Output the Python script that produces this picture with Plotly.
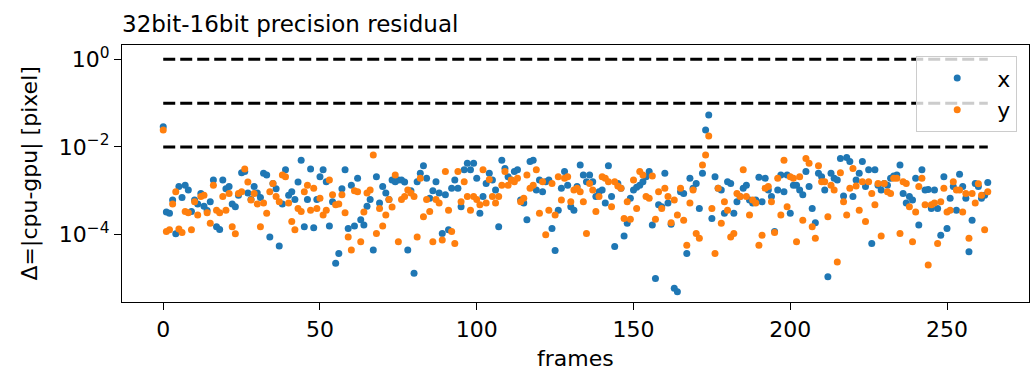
import plotly.graph_objects as go

# frame index
frames = list(range(264))

# log10 of |cpu-gpu| residual
x_residual_log10 = [
    -1.54, -3.48, -3.51, -3.21, -3.98, -2.90, -3.15, -2.87, -2.98, -3.47,
    -3.21, -3.30, -3.06, -3.35, -3.45, -3.25, -2.75, -3.82, -3.88, -2.75,
    -2.95, -2.90, -3.30, -3.36, -3.10, -2.59, -2.56, -3.05, -3.20, -2.90,
    -3.05, -3.15, -2.60, -2.64, -4.05, -2.83, -2.95, -4.26, -3.30, -2.52,
    -3.10, -3.02, -3.20, -2.80, -2.30, -3.82, -3.20, -2.50, -3.84, -3.20,
    -2.68, -2.52, -2.79, -3.80, -3.25, -4.65, -4.43, -2.95, -2.52, -3.86,
    -2.87, -3.80, -2.71, -3.66, -3.78, -3.35, -3.20, -4.35, -2.68, -3.28,
    -2.90, -3.05, -3.20, -2.75, -2.79, -2.75, -2.75, -2.80, -4.35, -3.00,
    -4.88, -2.79, -2.60, -2.43, -2.71, -3.17, -3.00, -2.79, -3.05, -3.97,
    -3.09, -3.89, -2.94, -2.75, -2.94, -3.36, -2.52, -2.37, -2.52, -2.37,
    -2.71, -3.51, -3.13, -2.83, -2.60, -2.75, -2.98, -3.82, -2.30, -2.49,
    -2.68, -2.75, -2.56, -2.52, -3.21, -3.28, -3.66, -2.33, -2.30, -2.98,
    -2.75, -3.02, -2.79, -2.75, -3.86, -4.36, -3.44, -2.94, -2.56, -2.87,
    -3.36, -3.44, -2.90, -2.41, -2.64, -2.79, -2.64, -2.79, -3.13, -3.02,
    -2.98, -3.28, -2.43, -3.13, -4.27, -2.83, -2.94, -4.03, -3.74, -3.17,
    -2.98, -2.92, -2.87, -2.79, -2.68, -2.56, -3.78, -5.00, -3.32, -3.36,
    -2.60, -3.28, -3.76, -5.22, -5.30, -3.02, -3.06, -4.43, -2.71, -2.94,
    -2.83, -3.40, -2.60, -1.61, -1.27, -3.63, -2.68, -2.94, -2.98, -3.51,
    -2.79, -2.83, -3.51, -3.25, -3.13, -2.94, -2.87, -3.21, -3.28, -3.21,
    -2.69, -3.25, -2.71, -2.98, -3.13, -3.93, -2.98, -2.64, -3.02, -2.64,
    -3.51, -2.87, -2.87, -2.98, -3.09, -2.56, -2.90, -3.40, -3.73, -2.60,
    -2.68, -2.98, -4.96, -2.60, -2.71, -2.75, -2.26, -3.12, -2.24, -2.33,
    -3.13, -2.75, -2.60, -2.33, -2.90, -2.52, -4.20, -2.52, -2.87, -2.98,
    -2.83, -2.87, -2.71, -2.66, -2.64, -2.41, -3.06, -3.28, -3.13, -3.21,
    -2.71, -3.78, -2.52, -2.98, -2.97, -3.40, -2.98, -3.40, -4.01, -2.68,
    -3.86, -3.17, -2.90, -3.44, -2.62, -2.90, -3.17, -4.39, -3.67, -2.83,
    -2.90, -3.17, -3.10, -2.81,
]

y_residual_log10 = [
    -1.61, -3.93, -3.89, -3.30, -3.02, -3.87, -3.95, -3.47, -3.50, -3.89,
    -3.25, -3.55, -3.13, -3.10, -3.50, -3.74, -2.87, -3.44, -3.50, -3.13,
    -3.44, -3.06, -3.82, -3.98, -3.06, -3.02, -2.50, -2.80, -3.21, -3.06,
    -3.30, -3.82, -3.28, -3.51, -3.02, -2.83, -3.13, -3.25, -2.64, -2.68,
    -3.28, -3.70, -3.89, -3.40, -3.47, -3.02, -2.87, -3.44, -2.94, -3.40,
    -3.17, -3.55, -3.44, -2.75, -3.09, -3.32, -3.30, -3.09, -3.50, -4.05,
    -4.35, -3.00, -3.02, -4.16, -3.48, -3.05, -2.98, -2.18, -3.97, -3.40,
    -3.80, -3.55, -3.20, -3.37, -2.64, -4.16, -3.20, -3.13, -2.98, -3.05,
    -3.13, -4.05, -2.71, -3.59, -3.20, -3.47, -4.16, -3.20, -3.28, -4.12,
    -2.56, -3.44, -3.93, -4.20, -2.56, -3.25, -2.79, -3.13, -3.44, -3.13,
    -3.20, -3.32, -2.52, -3.28, -2.74, -3.13, -3.28, -3.13, -2.87, -2.56,
    -2.87, -2.75, -2.79, -2.71, -3.25, -3.17, -2.64, -2.94, -2.87, -2.52,
    -3.51, -2.79, -4.00, -3.44, -2.83, -3.55, -2.68, -3.21, -2.71, -2.68,
    -3.25, -2.98, -2.94, -3.02, -3.25, -3.97, -2.83, -2.98, -3.47, -3.13,
    -2.68, -2.71, -2.79, -3.36, -2.79, -2.89, -2.94, -3.63, -3.25, -3.65,
    -2.75, -3.40, -2.56, -2.64, -3.13, -3.17, -2.66, -3.65, -3.02, -3.40,
    -2.94, -3.13, -3.73, -3.21, -3.55, -2.94, -3.67, -4.24, -3.28, -2.98,
    -3.97, -4.08, -2.41, -2.18, -1.75, -3.40, -4.43, -2.94, -3.74, -3.25,
    -3.44, -4.05, -3.97, -3.06, -3.13, -2.52, -3.13, -3.55, -3.21, -3.28,
    -4.24, -4.01, -2.94, -2.90, -3.25, -3.95, -2.71, -3.55, -2.30, -3.36,
    -2.68, -2.71, -4.16, -2.68, -3.67, -2.26, -2.37, -3.82, -4.08, -2.43,
    -2.79, -2.79, -3.59, -2.87, -2.98, -4.62, -2.59, -3.25, -3.55, -2.94,
    -2.49, -2.89, -3.44, -2.79, -3.70, -2.79, -3.06, -3.32, -2.83, -4.03,
    -2.83, -3.02, -3.06, -2.71, -2.71, -3.97, -2.79, -2.83, -3.36, -4.16,
    -3.48, -2.90, -2.71, -3.32, -4.69, -3.32, -3.28, -4.20, -3.25, -2.94,
    -3.48, -3.44, -2.79, -2.98, -2.98, -3.48, -3.06, -4.08, -3.06, -3.28,
    -2.84, -3.10, -3.89, -3.02,
]

thresholds = [1.0, 0.1, 0.01]
x_tick_vals = [0, 50, 100, 150, 200, 250]
y_tick_vals = [1.0, 1e-2, 1e-4]
y_tick_text = ["10<sup>0</sup>", "10<sup>\u22122</sup>", "10<sup>\u22124</sup>"]
series_names = ["x", "y"]
series_colors = ["#1f77b4", "#ff7f0e"]

x_vals = [10 ** v for v in x_residual_log10]
y_vals = [10 ** v for v in y_residual_log10]

fig = go.Figure()
for t in thresholds:
    fig.add_trace(go.Scatter(
        x=[frames[0], frames[-1]], y=[t, t], mode="lines",
        line=dict(color="black", width=3, dash="12px,5px"),
        showlegend=False, hoverinfo="skip"))

for name, vals, col in zip(series_names, [x_vals, y_vals], series_colors):
    fig.add_trace(go.Scatter(
        x=frames, y=vals, mode="markers", name=name,
        marker=dict(color=col, size=7, line=dict(width=0))))

axis_common = dict(showline=True, linecolor="black", linewidth=1.3, mirror=True,
                   ticks="outside", ticklen=7, tickwidth=1.3, tickcolor="black",
                   showgrid=False, zeroline=False,
                   tickfont=dict(size=22, color="black"))

fig.update_layout(
    width=1035, height=372,
    margin=dict(l=122, r=6, t=45, b=70),
    plot_bgcolor="white", paper_bgcolor="white",
    font=dict(family="DejaVu Sans", size=22, color="black"),
    title=dict(text="32bit-16bit precision residual", x=122 / 1035, xanchor="left",
               y=1 - 24 / 372, yanchor="middle", yref="container",
               font=dict(size=23, color="black")),
    xaxis=dict(range=[-13.15, 276.15], tickvals=x_tick_vals, **axis_common),
    yaxis=dict(type="log", range=[-5.535, 0.326], tickvals=y_tick_vals,
               ticktext=y_tick_text, **axis_common),
    legend=dict(x=0.987, xanchor="right", y=0.956, yanchor="top",
                bgcolor="rgba(255,255,255,0.8)", bordercolor="#cccccc", borderwidth=1,
                font=dict(size=22), itemwidth=70),
    showlegend=True,
    annotations=[
        dict(text="frames", xref="paper", yref="paper", x=0.5, y=(302 - 358) / 257,
             xanchor="center", yanchor="middle", showarrow=False, font=dict(size=22)),
        dict(text="\u0394=|cpu-gpu| [pixel]", xref="paper", yref="paper",
             x=(29 - 122) / 907, y=0.5, xanchor="center", yanchor="middle",
             textangle=-90, showarrow=False, font=dict(size=22)),
    ],
)

fig.write_html("out.html")
